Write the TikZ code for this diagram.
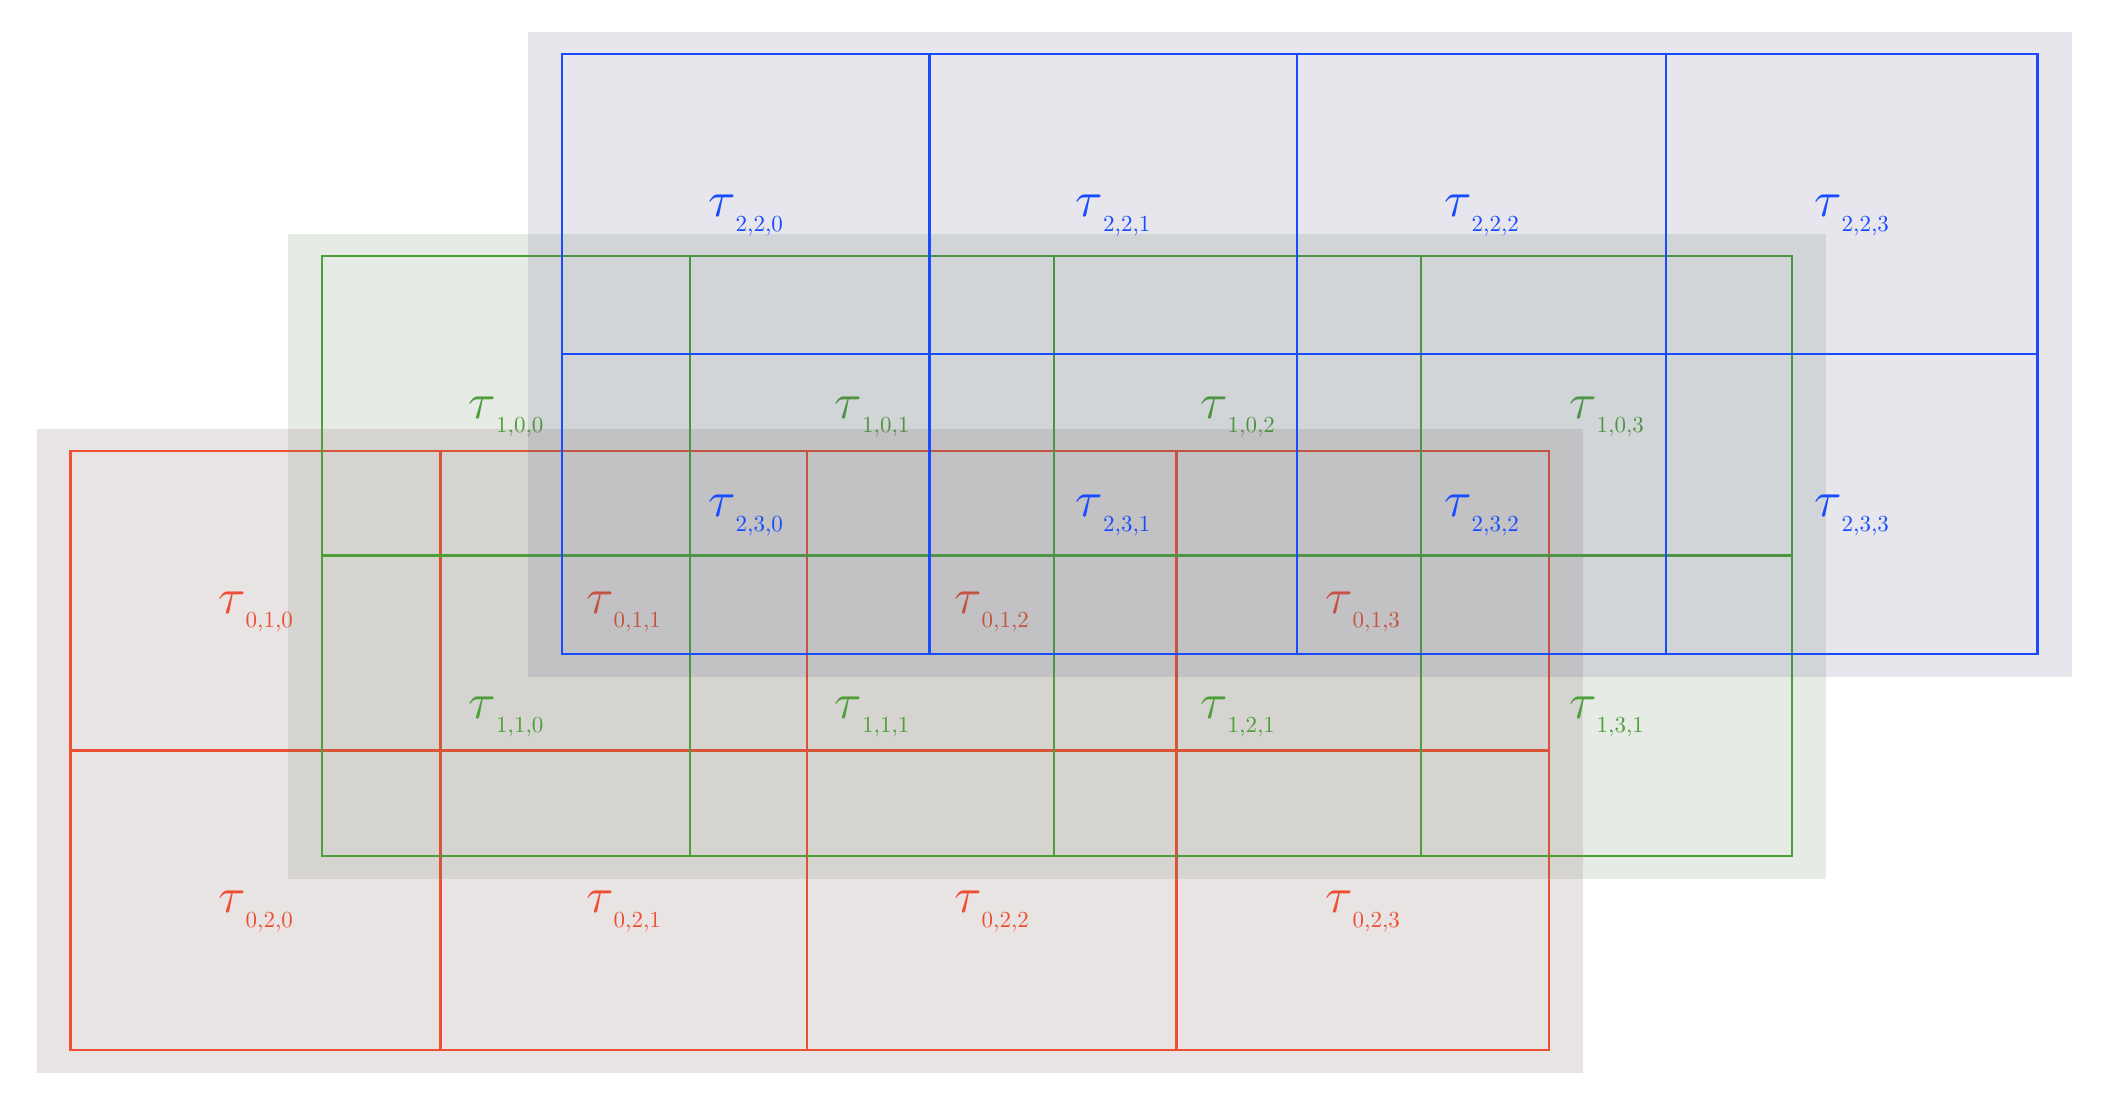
\documentclass[tikz,border=0pt]{standalone}
\usepackage{amsmath}
\usepackage{graphicx}
\usepackage{tikz}

\definecolor{layred}{RGB}{238,78,50}
\definecolor{laygreen}{RGB}{78,158,58}
\definecolor{layblue}{RGB}{25,75,255}
\definecolor{backred}{RGB}{110,72,75}
\definecolor{backgreen}{RGB}{95,122,88}
\definecolor{backblue}{RGB}{88,88,128}

\newcommand{\tauidx}[1]{$\tau$\raisebox{-2.95pt}{\scalebox{0.46}{#1}}}

\begin{document}
\begin{tikzpicture}[
    redline/.style={draw=layred,line width=0.45pt},
    greenline/.style={draw=laygreen,line width=0.45pt},
    blueline/.style={draw=layblue,line width=0.45pt},
    redback/.style={fill=backred,fill opacity=0.15},
    greenback/.style={fill=backgreen,fill opacity=0.15},
    blueback/.style={fill=backblue,fill opacity=0.15},
    redlab/.style={text=layred,inner sep=0pt},
    greenlab/.style={text=laygreen,inner sep=0pt},
    bluelab/.style={text=layblue,inner sep=0pt}]
                    \useasboundingbox (0pt,0pt) rectangle (422.4pt,-220pt);
                    % layer 0
                    \fill[redback] (7.3pt,-85.7pt) rectangle (316.6pt,-214.5pt);
                    \draw[redline] (14.1pt,-90.2pt) rectangle (309.8pt,-210.0pt);
                    \draw[redline] (88.1pt,-90.2pt) -- (88.1pt,-210.0pt);
                    \draw[redline] (161.4pt,-90.2pt) -- (161.4pt,-210.0pt);
                    \draw[redline] (235.3pt,-90.2pt) -- (235.3pt,-210.0pt);
                    \draw[redline] (14.1pt,-150.1pt) -- (309.8pt,-150.1pt);
                    \node[redlab] (t010) at (51.1pt,-122.4pt) {\tauidx{0,1,0}};
                    \node[redlab] (t011) at (124.7pt,-122.4pt) {\tauidx{0,1,1}};
                    \node[redlab] (t012) at (198.3pt,-122.4pt) {\tauidx{0,1,2}};
                    \node[redlab] (t013) at (272.5pt,-122.4pt) {\tauidx{0,1,3}};
                    \node[redlab] (t020) at (51.1pt,-182.3pt) {\tauidx{0,2,0}};
                    \node[redlab] (t021) at (124.7pt,-182.3pt) {\tauidx{0,2,1}};
                    \node[redlab] (t022) at (198.3pt,-182.3pt) {\tauidx{0,2,2}};
                    \node[redlab] (t023) at (272.5pt,-182.3pt) {\tauidx{0,2,3}};
                    % layer 1
                    \fill[greenback] (57.6pt,-46.7pt) rectangle (365.2pt,-175.7pt);
                    \draw[greenline] (64.4pt,-51.2pt) rectangle (358.4pt,-171.2pt);
                    \draw[greenline] (138.0pt,-51.2pt) -- (138.0pt,-171.2pt);
                    \draw[greenline] (210.8pt,-51.2pt) -- (210.8pt,-171.2pt);
                    \draw[greenline] (284.2pt,-51.2pt) -- (284.2pt,-171.2pt);
                    \draw[greenline] (64.4pt,-111.1pt) -- (358.4pt,-111.1pt);
                    \node[greenlab] (t100) at (101.2pt,-83.4pt) {\tauidx{1,0,0}};
                    \node[greenlab] (t101) at (174.4pt,-83.4pt) {\tauidx{1,0,1}};
                    \node[greenlab] (t102) at (247.5pt,-83.4pt) {\tauidx{1,0,2}};
                    \node[greenlab] (t103) at (321.3pt,-83.4pt) {\tauidx{1,0,3}};
                    \node[greenlab] (t110) at (101.2pt,-143.4pt) {\tauidx{1,1,0}};
                    \node[greenlab] (t111) at (174.4pt,-143.4pt) {\tauidx{1,1,1}};
                    \node[greenlab] (t121) at (247.5pt,-143.4pt) {\tauidx{1,2,1}};
                    \node[greenlab] (t131) at (321.3pt,-143.4pt) {\tauidx{1,3,1}};
                    % layer 2
                    \fill[blueback] (105.6pt,-6.3pt) rectangle (414.3pt,-135.3pt);
                    \draw[blueline] (112.4pt,-10.8pt) rectangle (407.5pt,-130.8pt);
                    \draw[blueline] (185.9pt,-10.8pt) -- (185.9pt,-130.8pt);
                    \draw[blueline] (259.4pt,-10.8pt) -- (259.4pt,-130.8pt);
                    \draw[blueline] (333.2pt,-10.8pt) -- (333.2pt,-130.8pt);
                    \draw[blueline] (112.4pt,-70.8pt) -- (407.5pt,-70.8pt);
                    \node[bluelab] (t220) at (149.1pt,-43.1pt) {\tauidx{2,2,0}};
                    \node[bluelab] (t221) at (222.6pt,-43.1pt) {\tauidx{2,2,1}};
                    \node[bluelab] (t222) at (296.3pt,-43.1pt) {\tauidx{2,2,2}};
                    \node[bluelab] (t223) at (370.3pt,-43.1pt) {\tauidx{2,2,3}};
                    \node[bluelab] (t230) at (149.1pt,-103.1pt) {\tauidx{2,3,0}};
                    \node[bluelab] (t231) at (222.6pt,-103.1pt) {\tauidx{2,3,1}};
                    \node[bluelab] (t232) at (296.3pt,-103.1pt) {\tauidx{2,3,2}};
                    \node[bluelab] (t233) at (370.3pt,-103.1pt) {\tauidx{2,3,3}};
                \end{tikzpicture}
\end{document}
